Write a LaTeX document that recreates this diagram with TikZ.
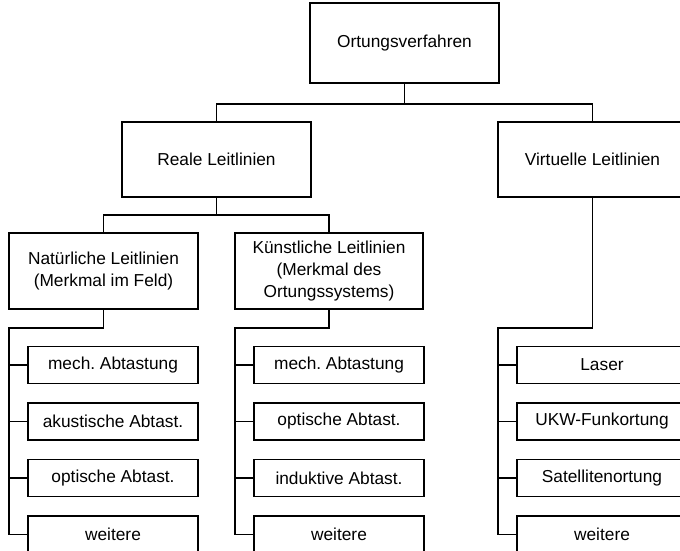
\documentclass[tikz,border=0pt]{standalone}
\usepackage{fontspec}
\setmainfont{Liberation Sans}
\frenchspacing
\begin{document}
\begin{tikzpicture}[x=1pt,y=-1pt,line width=1.3pt,
  box/.style={draw=black,rectangle,inner sep=0pt,align=center,font=\fontsize{17.3}{22}\selectfont},
  bigbox/.style={box,minimum width=189pt,minimum height=75pt},
  leaf/.style={box,minimum width=170pt,minimum height=37pt},
  conn/.style={draw=black,line width=1.3pt}]
\useasboundingbox (0,0) rectangle (680,551);
\clip (0,0) rectangle (680,551);
\fill[white] (0,0) rectangle (680,551);
% top level
\node[bigbox,minimum height=80pt] (O) at (404.5,43) {Ortungsverfahren};
\node[bigbox] (R) at (216.5,159.5) {Reale Leitlinien};
\node[bigbox] (V) at (592.5,159.5) {Virtuelle Leitlinien};
\node[bigbox,minimum height=76pt] (N) at (103.5,271) {Natürliche Leitlinien\\(Merkmal im Feld)};
\node[bigbox,minimum height=76pt,minimum width=188pt] (K) at (329,271) {Künstliche Leitlinien\\(Merkmal des\\Ortungssystems)};
% leaves
\node[leaf] (n1) at (113,365) {mech. Abtastung};
\node[leaf] (n2) at (113,421.5) {akustische Abtast.};
\node[leaf] (n3) at (113,478) {optische Abtast.};
\node[leaf] (n4) at (113,534.5) {weitere};
\node[leaf] (k1) at (339,365) {mech. Abtastung};
\node[leaf] (k2) at (339,421.5) {optische Abtast.};
\node[leaf] (k3) at (339,478) {induktive Abtast.};
\node[leaf] (k4) at (339,534.5) {weitere};
\node[leaf] (v1) at (602,365) {Laser};
\node[leaf] (v2) at (602,421.5) {UKW-Funkortung};
\node[leaf] (v3) at (602,478) {Satellitenortung};
\node[leaf] (v4) at (602,534.5) {weitere};
% bus points
\coordinate (b1) at (404.5,104);
\coordinate (b2) at (216.5,215);
\coordinate (nb) at (9,328);
\coordinate (kb) at (235,328);
\coordinate (vb) at (498,328);
% connectors
\draw[conn] (O.south) -- (b1);
\draw[conn] (R.north) |- (b1) -| (V.north);
\draw[conn] (R.south) -- (b2);
\draw[conn] (N.north) |- (b2) -| (K.north);
\draw[conn] (N.south) |- (nb) |- (n4.west);
\draw[conn] (n1.west) -- (n1.west -| nb);
\draw[conn] (n2.west) -- (n2.west -| nb);
\draw[conn] (n3.west) -- (n3.west -| nb);
\draw[conn] (K.south) |- (kb) |- (k4.west);
\draw[conn] (k1.west) -- (k1.west -| kb);
\draw[conn] (k2.west) -- (k2.west -| kb);
\draw[conn] (k3.west) -- (k3.west -| kb);
\draw[conn] (V.south) |- (vb) |- (v4.west);
\draw[conn] (v1.west) -- (v1.west -| vb);
\draw[conn] (v2.west) -- (v2.west -| vb);
\draw[conn] (v3.west) -- (v3.west -| vb);
\end{tikzpicture}
\end{document}
